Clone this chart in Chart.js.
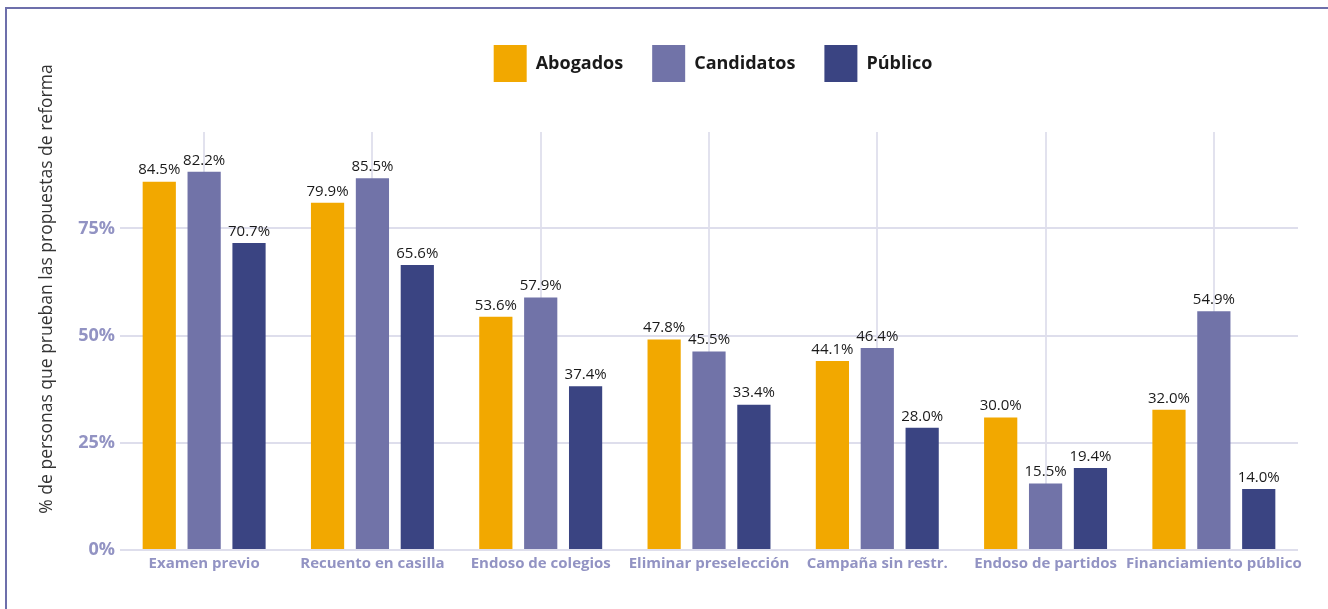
<!DOCTYPE html>
<html lang="es">
<head>
<meta charset="utf-8">
<title>Propuestas de reforma</title>
<script src="https://cdn.jsdelivr.net/npm/chart.js@4/dist/chart.umd.min.js"></script>
<style>
  html, body { margin: 0; padding: 0; background: #fff; }
  #wrap { position: relative; width: 1328px; height: 609px; }
  #frame {
    position: absolute; left: 5px; top: 7px; right: -10px; bottom: -10px;
    border-left: 2px solid #6d6fab; border-top: 2px solid #6d6fab;
    pointer-events: none;
  }
</style>
</head>
<body>
<div id="wrap">
  <canvas id="chart" width="1328" height="609"></canvas>
  <div id="frame"></div>
</div>
<script>
// categorias del eje x
const categorias = [
  'Examen previo', 'Recuento en casilla', 'Endoso de colegios', 'Eliminar preselección',
  'Campaña sin restr.', 'Endoso de partidos', 'Financiamiento público'
];

// alturas de las barras
const abogados   = [85.9, 81.0, 54.4, 49.1, 44.1, 30.9, 32.7];
const candidatos = [88.2, 86.7, 58.9, 46.3, 47.1, 15.5, 55.7];
const publico    = [71.6, 66.5, 38.2, 33.9, 28.5, 19.1, 14.2];

// etiquetas que aparecen encima de cada barra
const etiquetasAbogados   = ['84.5%', '79.9%', '53.6%', '47.8%', '44.1%', '30.0%', '32.0%'];
const etiquetasCandidatos = ['82.2%', '85.5%', '57.9%', '45.5%', '46.4%', '15.5%', '54.9%'];
const etiquetasPublico    = ['70.7%', '65.6%', '37.4%', '33.4%', '28.0%', '19.4%', '14.0%'];

const ticksY = [0, 25, 50, 75];
const tituloY = '% de personas que prueban las propuestas de reforma';

const FONT = '"Open Sans", "Noto Sans", sans-serif';

// etiquetas de valor sobre las barras
const valueLabels = {
  id: 'valueLabels',
  afterDatasetsDraw(chart) {
    const ctx = chart.ctx;
    ctx.save();
    ctx.font = '500 15px ' + FONT;
    ctx.fillStyle = '#1a1a1a';
    ctx.textAlign = 'center';
    ctx.textBaseline = 'bottom';
    chart.data.datasets.forEach((ds, i) => {
      const meta = chart.getDatasetMeta(i);
      meta.data.forEach((bar, j) => {
        ctx.fillText(ds.etiquetas[j], bar.x, bar.y - 4);
      });
    });
    ctx.restore();
  }
};

// titulo vertical del eje y
const axisTitle = {
  id: 'axisTitle',
  afterDraw(chart) {
    const ctx = chart.ctx;
    ctx.save();
    ctx.translate(47, 289);
    ctx.rotate(-Math.PI / 2);
    ctx.font = '17.5px ' + FONT;
    ctx.fillStyle = '#333333';
    ctx.textAlign = 'center';
    ctx.textBaseline = 'middle';
    ctx.fillText(tituloY, 0, 0);
    ctx.restore();
  }
};

// espacio extra debajo de la leyenda y leyenda un poco a la derecha
const legendGap = {
  id: 'legendGap',
  beforeInit(chart) {
    const lg = chart.legend;
    const fit = lg.fit;
    lg.fit = function () {
      fit.call(this);
      this.height += 40;
    };
    const draw = lg.draw;
    lg.draw = function (area) {
      const c = this.ctx;
      c.save();
      c.translate(34, 0);
      draw.call(this, area);
      c.restore();
    };
  }
};

const ctx = document.getElementById('chart').getContext('2d');
new Chart(ctx, {
  type: 'bar',
  data: {
    labels: categorias,
    datasets: [
      { label: 'Abogados',   data: abogados,   etiquetas: etiquetasAbogados,   backgroundColor: '#f2a800' },
      { label: 'Candidatos', data: candidatos, etiquetas: etiquetasCandidatos, backgroundColor: '#7173a8' },
      { label: 'Público',    data: publico,    etiquetas: etiquetasPublico,    backgroundColor: '#3a4482' }
    ]
  },
  options: {
    responsive: false,
    animation: false,
    devicePixelRatio: 1,
    layout: { padding: { left: 60, right: 30, top: 16, bottom: 31 } },
    datasets: {
      bar: { categoryPercentage: 0.8, barPercentage: 0.74 }
    },
    plugins: {
      tooltip: { enabled: false },
      legend: {
        position: 'top',
        labels: {
          boxWidth: 33,
          boxHeight: 37,
          padding: 29,
          color: '#1a1a1a',
          font: { family: FONT, size: 18, weight: 'bold' }
        }
      }
    },
    scales: {
      x: {
        grid: { offset: false, color: '#e2e2ee', lineWidth: 2, drawTicks: false },
        border: { display: false },
        ticks: {
          color: '#9293c3',
          padding: 5,
          maxRotation: 0,
          autoSkip: false,
          font: { family: FONT, size: 15, weight: 'bold' }
        }
      },
      y: {
        min: 0,
        max: 97.5,
        afterFit(s) { s.width = 60; },
        afterBuildTicks(s) { s.ticks = ticksY.map(v => ({ value: v })); },
        grid: { color: '#dedeec', lineWidth: 2, drawTicks: false },
        border: { display: false },
        ticks: {
          color: '#9293c3',
          padding: 5,
          callback: v => v + '%',
          font: { family: FONT, size: 18, weight: 'bold' }
        }
      }
    }
  },
  plugins: [valueLabels, axisTitle, legendGap]
});
</script>
</body>
</html>
